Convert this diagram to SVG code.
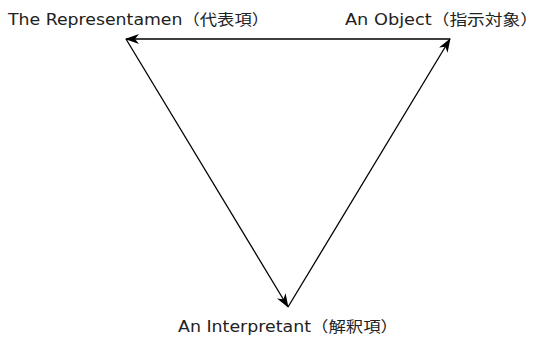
<svg xmlns="http://www.w3.org/2000/svg" width="539" height="337" viewBox="0 0 539 337">
<style>
.lbl{font-family:"DejaVu Sans","Noto Sans CJK JP",sans-serif;font-size:15px;font-weight:normal;fill:#222}
.edge{stroke:#000;stroke-width:1.3;fill:none;marker-end:url(#ah)}
</style>
<defs>
<marker id="ah" viewBox="0 0 14 10" refX="13" refY="5" markerWidth="14" markerHeight="10" markerUnits="userSpaceOnUse" orient="auto">
<path d="M0,0 L14,5 L0,10 L4,5 z" fill="#000"/>
</marker>
</defs>
<rect width="539" height="337" fill="#fff"/>
<g id="connectors">
<line class="edge" x1="450" y1="39" x2="126" y2="39"/>
<line class="edge" x1="126" y1="39" x2="288" y2="307"/>
<line class="edge" x1="288" y1="307" x2="450" y2="39"/>
</g>
<g id="representamen"><text class="lbl" x="8" y="25" textLength="261" lengthAdjust="spacingAndGlyphs">The Representamen（代表項）</text></g>
<g id="object"><text class="lbl" x="345" y="25" textLength="193" lengthAdjust="spacingAndGlyphs">An Object（指示対象）</text></g>
<g id="interpretant"><text class="lbl" x="178" y="332" textLength="220" lengthAdjust="spacingAndGlyphs">An Interpretant（解釈項）</text></g>
</svg>
